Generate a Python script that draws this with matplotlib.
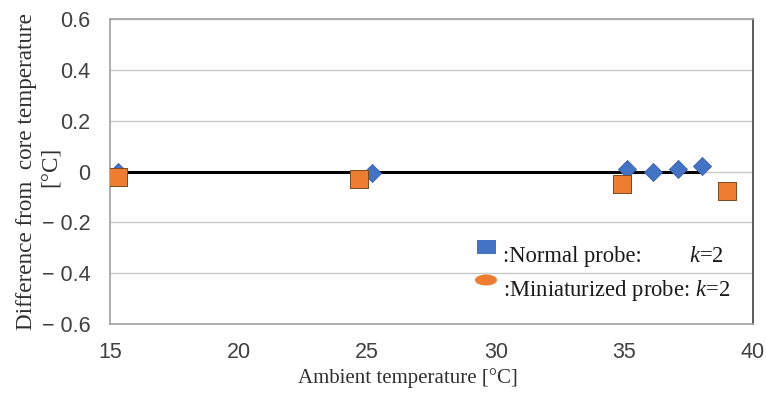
import matplotlib
matplotlib.use("Agg")
import matplotlib.pyplot as plt
from matplotlib.patches import Rectangle, Ellipse

plt.rcParams['mathtext.fontset'] = 'custom'
plt.rcParams['mathtext.rm'] = 'Liberation Serif'
plt.rcParams['mathtext.it'] = 'Liberation Serif:italic'

# Data
normal_x = [15.3, 25.2, 35.1, 36.1, 37.1, 38.0]
normal_y = [0.0, -0.005, 0.01, 0.0, 0.01, 0.02]
mini_x = [15.3, 24.7, 34.9, 39.0]
mini_y = [-0.02, -0.03, -0.05, -0.075]
zero_line_x = [15, 38]
zero_line_y = [0, 0]
xticks = [15, 20, 25, 30, 35, 40]
yticks = [-0.6, -0.4, -0.2, 0, 0.2, 0.4, 0.6]
ytick_labels = ['\u2212 0.6', '\u2212 0.4', '\u2212 0.2', '0', '0.2', '0.4', '0.6']
legend_normal = ':Normal probe:'
legend_mini = ':Miniaturized probe: $k$=2'
legend_k = '$k$=2'

blue = '#4472C4'
orange = '#ED7D31'

W, H = 766, 394
fig = plt.figure(figsize=(W/100, H/100), dpi=100)
ax = fig.add_axes([110/W, 1-324/H, (753-110)/W, (324-19)/H])

def fx(px):
    return px / W

def fy(py):
    return 1 - py / H

ax.set_xlim(15, 40)
ax.set_ylim(-0.6, 0.6)
ax.set_xticks(xticks)
ax.set_yticks(yticks)
ax.set_yticklabels(ytick_labels)
ax.tick_params(length=0, labelsize=15.5, labelcolor='#404040')
ax.tick_params(axis='y', pad=14)
ax.tick_params(axis='x', pad=13)
for lab in ax.get_xticklabels() + ax.get_yticklabels():
    lab.set_fontfamily('Liberation Sans')

ax.grid(axis='y', color='#c8c8c8', linewidth=1)
ax.set_axisbelow(True)
for s in ['left', 'bottom', 'top']:
    ax.spines[s].set_color('#a0a0a0')
    ax.spines[s].set_linewidth(1.2)
ax.spines['right'].set_color('#404040')
ax.spines['right'].set_linewidth(1.2)

ax.plot(zero_line_x, zero_line_y, color='black', linewidth=2.2, zorder=2)
ax.scatter(normal_x, normal_y, marker='D', s=85, color=blue,
           edgecolor='#3a62a8', linewidth=0.6, zorder=3)
ax.scatter(mini_x, mini_y, marker='s', s=150, color=orange,
           edgecolor='#7a4a20', linewidth=0.7, zorder=4)

# Legend (drawn manually)
fig.add_artist(Rectangle((fx(477), fy(254)), 19/W, 14/H, transform=fig.transFigure,
                         facecolor=blue, edgecolor='none'))
fig.add_artist(Ellipse((fx(486), fy(280)), 22/W, 11/H, transform=fig.transFigure,
                       facecolor=orange, edgecolor='none'))
tprops = dict(fontfamily='Liberation Serif', fontsize=16.3, color='#1a1a1a',
              va='baseline', ha='left')
fig.text(fx(503), fy(262), legend_normal, **tprops)
fig.text(fx(689), fy(262), legend_k, **tprops)
fig.text(fx(503), fy(296), legend_mini, **tprops)

# Axis labels
ax.set_xlabel('Ambient temperature [\u00b0C]', fontfamily='Liberation Serif',
              fontsize=15, color='#303030')
ax.xaxis.set_label_coords((408-110)/(753-110), -(383-324)/(324-19))
ax.xaxis.label.set_va('baseline')
ax.set_ylabel('Difference from  core temperature',
              fontfamily='Liberation Serif', fontsize=16.7, color='#303030')
ax.yaxis.set_label_coords(-(110-27)/(753-110), (324-171)/(324-19))
ax.yaxis.label.set_va('center')
fig.text(fx(50), fy(167), '[\u00b0C]', rotation=90, fontfamily='Liberation Serif',
         fontsize=16.7, color='#303030', ha='center', va='center')

fig.savefig('out.png', dpi=100)
